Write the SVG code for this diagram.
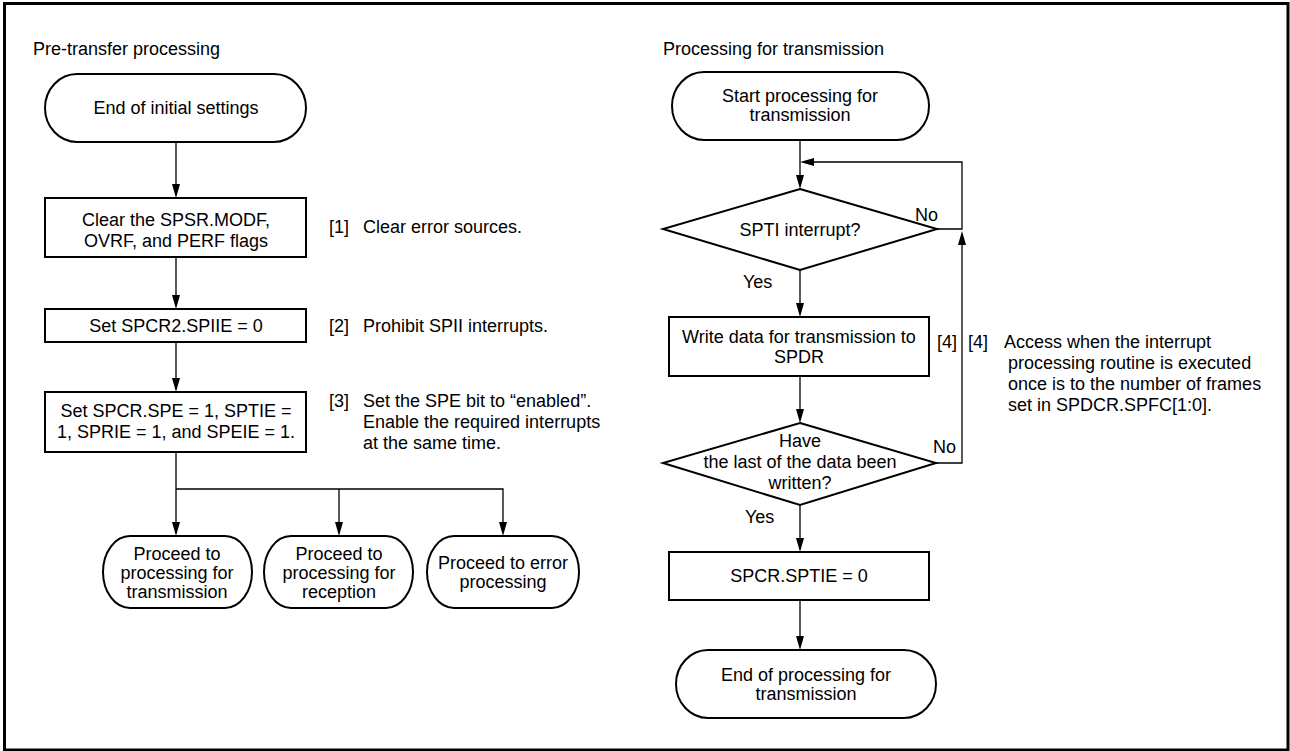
<svg xmlns="http://www.w3.org/2000/svg" width="1290" height="751" viewBox="0 0 1290 751">
<defs>
<style>
text{font-family:"Liberation Sans",Arial,sans-serif;font-size:18px;fill:#000}
.c{text-anchor:middle}
.s{fill:#fff;stroke:#000;stroke-width:2}
.l{fill:none;stroke:#000;stroke-width:1.3}
.a{fill:#000}
</style>
</defs>
<rect x="0" y="0" width="1290" height="751" fill="#fff"/>
<rect x="4.5" y="3.5" width="1283.5" height="746.5" fill="none" stroke="#000" stroke-width="3"/>

<text x="33" y="55">Pre-transfer processing</text>
<text x="663" y="55">Processing for transmission</text>

<g id="connectors">
<path class="l" d="M176,142 V186"/>
<path class="a" d="M172,184 L180,184 L176,198 Z"/>
<path class="l" d="M176,257 V297"/>
<path class="a" d="M172,295 L180,295 L176,309 Z"/>
<path class="l" d="M176,342 V380"/>
<path class="a" d="M172,378 L180,378 L176,392 Z"/>
<path class="l" d="M176,452 V524 M176,489 H503 V524 M339,489 V524"/>
<path class="a" d="M172,522 L180,522 L176,536 Z"/>
<path class="a" d="M335,522 L343,522 L339,536 Z"/>
<path class="a" d="M499,522 L507,522 L503,536 Z"/>

<path class="l" d="M800,140 V177"/>
<path class="a" d="M796,175 L804,175 L800,189 Z"/>
<path class="l" d="M937,229 H962 V162 H812"/>
<path class="a" d="M814,158 L814,166 L800,162 Z"/>
<path class="l" d="M936,463 H962 V243"/>
<path class="a" d="M958,245 L966,245 L962,231 Z"/>
<path class="l" d="M800,270 V305"/>
<path class="a" d="M796,303 L804,303 L800,317 Z"/>
<path class="l" d="M800,376 V411"/>
<path class="a" d="M796,409 L804,409 L800,423 Z"/>
<path class="l" d="M800,505 V540"/>
<path class="a" d="M796,538 L804,538 L800,552 Z"/>
<path class="l" d="M800,600 V638"/>
<path class="a" d="M796,636 L804,636 L800,650 Z"/>
</g>

<g id="end-initial">
<rect class="s" x="45" y="74" width="261" height="68" rx="32" ry="34"/>
<text class="c" x="176" y="114">End of initial settings</text>
</g>
<g id="clear-flags">
<rect class="s" x="45" y="198" width="261" height="59"/>
<text class="c" x="176" y="226">Clear the SPSR.MODF,</text>
<text class="c" x="176" y="247">OVRF, and PERF flags</text>
</g>
<g id="note1"><text x="329" y="233">[1]</text><text x="363" y="233">Clear error sources.</text></g>
<g id="set-spiie">
<rect class="s" x="45" y="309" width="261" height="33"/>
<text class="c" x="176" y="332">Set SPCR2.SPIIE = 0</text>
</g>
<g id="note2"><text x="329" y="332">[2]</text><text x="363" y="332">Prohibit SPII interrupts.</text></g>
<g id="set-spe">
<rect class="s" x="45" y="392" width="261" height="60"/>
<text class="c" x="176" y="417">Set SPCR.SPE = 1, SPTIE =</text>
<text class="c" x="176" y="438">1, SPRIE = 1, and SPEIE = 1.</text>
</g>
<g id="note3">
<text x="329" y="407">[3]</text>
<text x="363" y="407">Set the SPE bit to “enabled”.</text>
<text x="363" y="428">Enable the required interrupts</text>
<text x="363" y="449">at the same time.</text>
</g>
<g id="to-tx">
<rect class="s" x="103" y="536" width="149" height="72" rx="27" ry="36"/>
<text class="c" x="177" y="560">Proceed to</text>
<text class="c" x="177" y="579">processing for</text>
<text class="c" x="177" y="598">transmission</text>
</g>
<g id="to-rx">
<rect class="s" x="264" y="536" width="149" height="72" rx="27" ry="36"/>
<text class="c" x="339" y="560">Proceed to</text>
<text class="c" x="339" y="579">processing for</text>
<text class="c" x="339" y="598">reception</text>
</g>
<g id="to-err">
<rect class="s" x="427" y="536" width="152" height="72" rx="27" ry="36"/>
<text class="c" x="503" y="569">Proceed to error</text>
<text class="c" x="503" y="588">processing</text>
</g>

<g id="start-tx">
<rect class="s" x="672" y="72" width="257" height="68" rx="32" ry="34"/>
<text class="c" x="800" y="102">Start processing for</text>
<text class="c" x="800" y="121">transmission</text>
</g>
<g id="spti">
<path class="s" d="M800,189 L937,229 L800,270 L663,229 Z"/>
<text class="c" x="800" y="236">SPTI interrupt?</text>
<text x="915" y="221">No</text>
<text x="743" y="288">Yes</text>
</g>
<g id="write-data">
<rect class="s" x="669" y="317" width="260" height="59"/>
<text class="c" x="799" y="343">Write data for transmission to</text>
<text class="c" x="799" y="363">SPDR</text>
<text x="937" y="348">[4]</text>
</g>
<g id="note4">
<text x="968" y="348">[4]</text>
<text x="1004" y="348"> Access when the interrupt</text>
<text x="1008" y="369">processing routine is executed</text>
<text x="1008" y="390">once is to the number of frames</text>
<text x="1008" y="411">set in SPDCR.SPFC[1:0].</text>
</g>
<g id="last-data">
<path class="s" d="M800,423 L936,463 L800,505 L663,463 Z"/>
<text class="c" x="800" y="447">Have</text>
<text class="c" x="800" y="468">the last of the data been</text>
<text class="c" x="800" y="489">written?</text>
<text x="933" y="453">No</text>
<text x="745" y="523">Yes</text>
</g>
<g id="sptie0">
<rect class="s" x="669" y="552" width="260" height="48"/>
<text class="c" x="799" y="582">SPCR.SPTIE = 0</text>
</g>
<g id="end-tx">
<rect class="s" x="676" y="650" width="260" height="68" rx="32" ry="34"/>
<text class="c" x="806" y="681">End of processing for</text>
<text class="c" x="806" y="700">transmission</text>
</g>
</svg>
